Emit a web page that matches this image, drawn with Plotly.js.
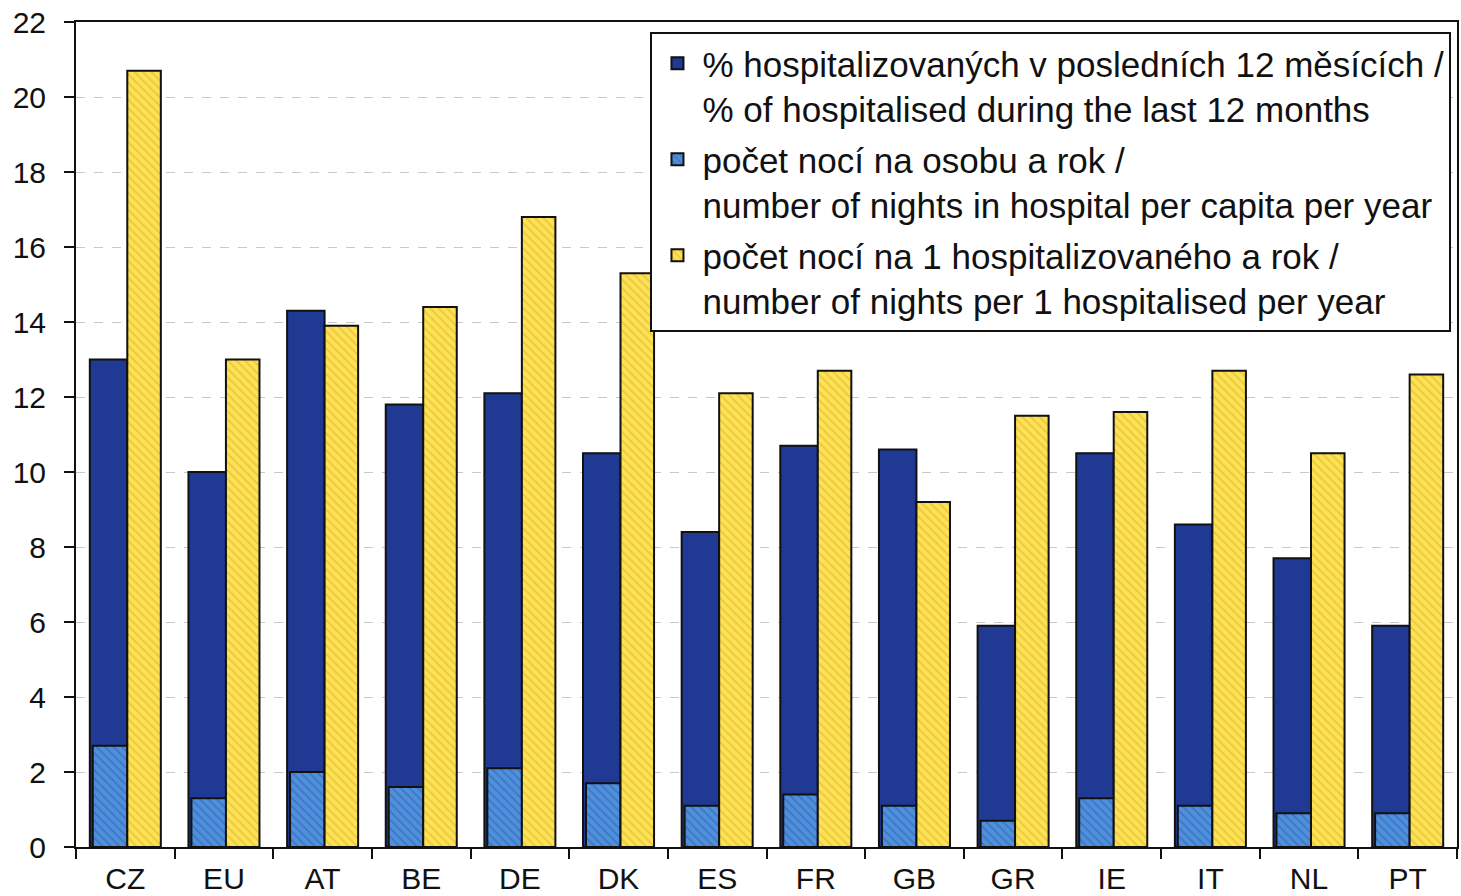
<!DOCTYPE html>
<html>
<head>
<meta charset="utf-8">
<script src="https://cdn.plot.ly/plotly-3.0.1.min.js"></script>
<style>html,body{margin:0;padding:0;background:#fff;}#chart{width:1461px;height:896px;}</style>
</head>
<body>
<div id="chart"></div>
<script>
const categories = ["CZ","EU","AT","BE","DE","DK","ES","FR","GB","GR","IE","IT","NL","PT"];
const pctHospitalised = [13.0,10.0,14.3,11.8,12.1,10.5,8.4,10.7,10.6,5.9,10.5,8.6,7.7,5.9];
const nightsPerCapita = [2.7,1.3,2.0,1.6,2.1,1.7,1.1,1.4,1.1,0.7,1.3,1.1,0.9,0.9];
const nightsPerHospitalised = [20.7,13.0,13.9,14.4,16.8,15.3,12.1,12.7,9.2,11.5,11.6,12.7,10.5,12.6];
const yTicks = [0,2,4,6,8,10,12,14,16,18,20,22];
const seriesNames = [
  "% hospitalizovaných v posledních 12 měsících /<br>% of hospitalised during the last 12 months",
  "počet nocí na osobu a rok /<br>number of nights in hospital per capita per year",
  "počet nocí na 1 hospitalizovaného a rok /<br>number of nights per 1 hospitalised per year"
];

const outline = {color: "#111", width: 2};
const traces = [
  {type: "bar", x: categories, y: pctHospitalised, name: seriesNames[0], legendgroup: "g1",
   offset: -0.36, width: 0.38, marker: {color: "#203a94", line: outline}},
  {type: "bar", x: categories, y: nightsPerCapita, name: seriesNames[1], legendgroup: "g2",
   offset: -0.33, width: 0.35,
   marker: {color: "#4a8ad8", line: outline,
            pattern: {shape: "\\", bgcolor: "#4f90dc", fgcolor: "#3a72c0", size: 6, solidity: 0.25}}},
  {type: "bar", x: categories, y: nightsPerHospitalised, name: seriesNames[2], legendgroup: "g3",
   offset: 0.02, width: 0.34,
   marker: {color: "#f9de50", line: outline,
            pattern: {shape: "\\", bgcolor: "#fae356", fgcolor: "#f3c43a", size: 6, solidity: 0.3}}}
];

const layout = {
  width: 1461, height: 896,
  margin: {l: 76, r: 4, t: 22, b: 49},
  paper_bgcolor: "#fff", plot_bgcolor: "#fff",
  barmode: "overlay",
  showlegend: true,
  font: {family: "Liberation Sans, Arial, sans-serif", color: "#111"},
  xaxis: {
    type: "category", tickson: "boundaries", ticks: "outside", ticklen: 10, tickwidth: 2,
    tickcolor: "#111", showline: true, linecolor: "#111", linewidth: 2, mirror: true,
    tickfont: {size: 30}, showgrid: false, range: [-0.5, 13.5], ticklabelstandoff: 4
  },
  yaxis: {
    range: [0, 22], tickvals: yTicks, ticks: "outside", ticklen: 10, tickwidth: 2,
    tickcolor: "#111", showline: true, linecolor: "#111", linewidth: 2, mirror: true,
    tickfont: {size: 30}, showgrid: true, gridcolor: "#c8c8c8", griddash: "dash", gridwidth: 1,
    zeroline: false, ticklabelstandoff: 12
  },
  legend: {
    x: 0.996, y: 0.988, xanchor: "right", yanchor: "top",
    bgcolor: "#fff", bordercolor: "#111", borderwidth: 2,
    font: {size: 35, color: "#111"}, itemwidth: 40, tracegroupgap: 2, valign: "top"
  }
};

Plotly.newPlot("chart", traces, layout, {displayModeBar: false, staticPlot: true});
</script>
</body>
</html>
